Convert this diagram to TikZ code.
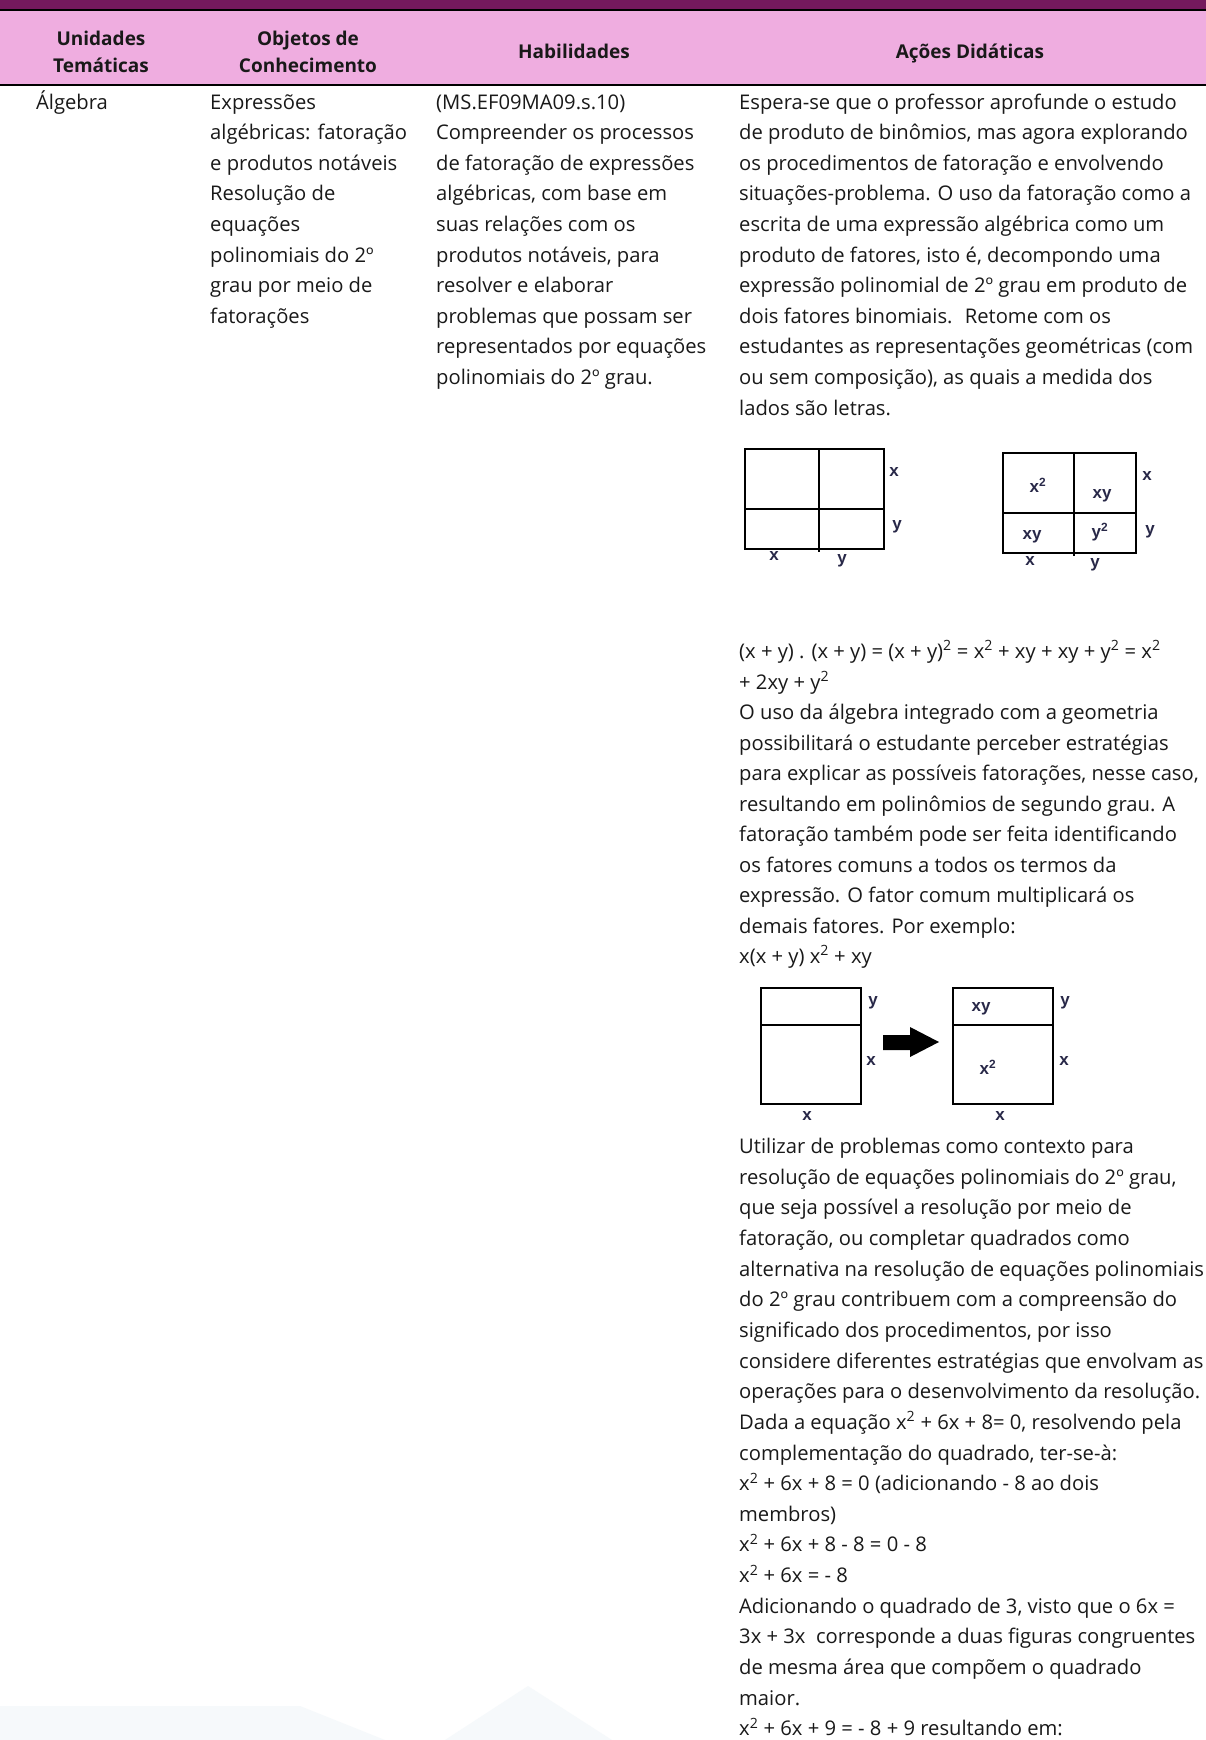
\documentclass[tikz,border=0pt]{standalone}
\usepackage{fontspec}
\setmainfont{Open Sans}
\newfontfamily\lblfont{Liberation Sans}
\definecolor{bandpurple}{RGB}{117,25,93}
\definecolor{headpink}{RGB}{239,173,224}
\definecolor{bodytext}{RGB}{25,25,25}
\definecolor{lblcol}{RGB}{40,40,72}
\definecolor{wmark}{RGB}{246,249,251}
\newcommand\sq{\textsuperscript{2}}
\begin{document}
\begin{tikzpicture}[x=1pt,y=-1pt,
  txt/.style={anchor=base west, inner sep=0pt, font=\fontsize{20.2}{24}\selectfont, text=bodytext},
  hdr/.style={anchor=base, inner sep=0pt, font=\fontsize{19}{23}\selectfont\bfseries, text=bodytext},
  lbl/.style={inner sep=0pt, font=\lblfont\fontsize{17}{19}\selectfont\bfseries, text=lblcol},
  boxline/.style={line width=2.2pt, draw=black},
  innerline/.style={line width=1.7pt, draw=black}]
\useasboundingbox (0,0) rectangle (1206,1740);
\fill[white] (0,0) rectangle (1206,1740);
% faint watermark
\fill[wmark] (0,1706) -- (300,1706) -- (385,1740) -- (0,1740) -- cycle;
\fill[wmark] (445,1740) -- (528,1686) -- (612,1740) -- cycle;
% header band
\fill[bandpurple] (0,0) rectangle (1206,9.5);
\fill[headpink] (0,11) rectangle (1206,84);
\draw[line width=1.8pt] (0,10.3) -- (1206,10.3);
\draw[line width=2.2pt] (0,84.8) -- (1206,84.8);
\node[hdr] (h1a) at (101,45) {Unidades};
\node[hdr] (h1b) at (101,72) {Temáticas};
\node[hdr] (h2a) at (308,45) {Objetos de};
\node[hdr] (h2b) at (308,72) {Conhecimento};
\node[hdr] (h3) at (574,58.5) {Habilidades};
\node[hdr] (h4) at (970,58.5) {Ações Didáticas};
% column 1
\node[txt] (c1) at (36,109) {Álgebra};
% column 2
\node[txt] (c2l0) at (210,{109+30.6*0}) {Expressões};
\node[txt] (c2l1) at (210,{109+30.6*1}) {algébricas: fatoração};
\node[txt] (c2l2) at (210,{109+30.6*2}) {e produtos notáveis};
\node[txt] (c2l3) at (210,{109+30.6*3}) {Resolução de};
\node[txt] (c2l4) at (210,{109+30.6*4}) {equações};
\node[txt] (c2l5) at (210,{109+30.6*5}) {polinomiais do 2º};
\node[txt] (c2l6) at (210,{109+30.6*6}) {grau por meio de};
\node[txt] (c2l7) at (210,{109+30.6*7}) {fatorações};
% column 3
\node[txt] (c3l0) at (436,{109+30.6*0}) {(MS.EF09MA09.s.10)};
\node[txt] (c3l1) at (436,{109+30.6*1}) {Compreender os processos};
\node[txt] (c3l2) at (436,{109+30.6*2}) {de fatoração de expressões};
\node[txt] (c3l3) at (436,{109+30.6*3}) {algébricas, com base em};
\node[txt] (c3l4) at (436,{109+30.6*4}) {suas relações com os};
\node[txt] (c3l5) at (436,{109+30.6*5}) {produtos notáveis, para};
\node[txt] (c3l6) at (436,{109+30.6*6}) {resolver e elaborar};
\node[txt] (c3l7) at (436,{109+30.6*7}) {problemas que possam ser};
\node[txt] (c3l8) at (436,{109+30.6*8}) {representados por equações};
\node[txt] (c3l9) at (436,{109+30.6*9}) {polinomiais do 2º grau.};
% column 4 block A
\node[txt] (a0) at (739,{109+30.6*0}) {Espera-se que o professor aprofunde o estudo};
\node[txt] (a1) at (739,{109+30.6*1}) {de produto de binômios, mas agora explorando};
\node[txt] (a2) at (739,{109+30.6*2}) {os procedimentos de fatoração e envolvendo};
\node[txt] (a3) at (739,{109+30.6*3}) {situações-problema. O uso da fatoração como a};
\node[txt] (a4) at (739,{109+30.6*4}) {escrita de uma expressão algébrica como um};
\node[txt] (a5) at (739,{109+30.6*5}) {produto de fatores, isto é, decompondo uma};
\node[txt] (a6) at (739,{109+30.6*6}) {expressão polinomial de 2º grau em produto de};
\node[txt] (a7) at (739,{109+30.6*7}) {dois fatores binomiais.~ Retome com os};
\node[txt] (a8) at (739,{109+30.6*8}) {estudantes as representações geométricas (com};
\node[txt] (a9) at (739,{109+30.6*9}) {ou sem composição), as quais a medida dos};
\node[txt] (a10) at (739,{109+30.6*10}) {lados são letras.};
% figure 1
\draw[innerline] (745,509) -- (884,509);
\draw[innerline] (819,449) -- (819,552);
\draw[boxline] (745,449) rectangle (884,549);
\node[lbl] (f1rx) at (894,472) {x};
\node[lbl] (f1ry) at (897,527) {y};
\node[lbl] (f1bx) at (774,556) {x};
\node[lbl] (f1by) at (842,561) {y};
% figure 2
\draw[innerline] (1003,513) -- (1136,513);
\draw[innerline] (1074,453) -- (1074,556);
\draw[boxline] (1003,453) rectangle (1136,553);
\node[lbl] (f2a) at (1038,485) {x\sq};
\node[lbl] (f2b) at (1102,496) {xy};
\node[lbl] (f2c) at (1032,537) {xy};
\node[lbl] (f2d) at (1100,532) {y\sq};
\node[lbl] (f2rx) at (1147,476) {x};
\node[lbl] (f2ry) at (1150,532) {y};
\node[lbl] (f2bx) at (1030,561) {x};
\node[lbl] (f2by) at (1095,565) {y};
% column 4 block B
\node[txt] (b0) at (739,{658.5+30.5*0}) {(x + y) . (x + y) = (x + y)\sq{} = x\sq{} + xy + xy + y\sq{} = x\sq};
\node[txt] (b1) at (739,{658.5+30.5*1}) {+ 2xy + y\sq};
\node[txt] (b2) at (739,{658.5+30.5*2}) {O uso da álgebra integrado com a geometria};
\node[txt] (b3) at (739,{658.5+30.5*3}) {possibilitará o estudante perceber estratégias};
\node[txt] (b4) at (739,{658.5+30.5*4}) {para explicar as possíveis fatorações, nesse caso,};
\node[txt] (b5) at (739,{658.5+30.5*5}) {resultando em polinômios de segundo grau. A};
\node[txt] (b6) at (739,{658.5+30.5*6}) {fatoração também pode ser feita identificando};
\node[txt] (b7) at (739,{658.5+30.5*7}) {os fatores comuns a todos os termos da};
\node[txt] (b8) at (739,{658.5+30.5*8}) {expressão. O fator comum multiplicará os};
\node[txt] (b9) at (739,{658.5+30.5*9}) {demais fatores. Por exemplo:};
\node[txt] (b10) at (739,{658.5+30.5*10}) {x(x + y) x\sq{} + xy};
% figure 3
\draw[innerline] (761,1025) -- (861,1025);
\draw[boxline] (761,988) rectangle (861,1104);
\node[lbl] (f3ly) at (873,1003) {y};
\node[lbl] (f3lx) at (871,1061) {x};
\node[lbl] (f3lb) at (807,1116) {x};
\fill[black] (883,1035) -- (910,1035) -- (910,1027) -- (939,1042) -- (910,1057) -- (910,1050) -- (883,1050) -- cycle;
\draw[innerline] (953,1025) -- (1053,1025);
\draw[boxline] (953,988) rectangle (1053,1104);
\node[lbl] (f3xy) at (981,1009) {xy};
\node[lbl] (f3x2) at (988,1067) {x\sq};
\node[lbl] (f3ry) at (1065,1003) {y};
\node[lbl] (f3rx) at (1064,1061) {x};
\node[lbl] (f3rb) at (1000,1116) {x};
% column 4 block C
\node[txt] (k0) at (739,{1153.5+30.65*0}) {Utilizar de problemas como contexto para};
\node[txt] (k1) at (739,{1153.5+30.65*1}) {resolução de equações polinomiais do 2º grau,};
\node[txt] (k2) at (739,{1153.5+30.65*2}) {que seja possível a resolução por meio de};
\node[txt] (k3) at (739,{1153.5+30.65*3}) {fatoração, ou completar quadrados como};
\node[txt] (k4) at (739,{1153.5+30.65*4}) {alternativa na resolução de equações polinomiais};
\node[txt] (k5) at (739,{1153.5+30.65*5}) {do 2º grau contribuem com a compreensão do};
\node[txt] (k6) at (739,{1153.5+30.65*6}) {significado dos procedimentos, por isso};
\node[txt] (k7) at (739,{1153.5+30.65*7}) {considere diferentes estratégias que envolvam as};
\node[txt] (k8) at (739,{1153.5+30.65*8}) {operações para o desenvolvimento da resolução.};
\node[txt] (k9) at (739,{1153.5+30.65*9}) {Dada a equação x\sq{} + 6x + 8= 0, resolvendo pela};
\node[txt] (k10) at (739,{1153.5+30.65*10}) {complementação do quadrado, ter-se-à:};
\node[txt] (k11) at (739,{1153.5+30.65*11}) {x\sq{} + 6x + 8 = 0 (adicionando - 8 ao dois};
\node[txt] (k12) at (739,{1153.5+30.65*12}) {membros)};
\node[txt] (k13) at (739,{1153.5+30.65*13}) {x\sq{} + 6x + 8 - 8 = 0 - 8};
\node[txt] (k14) at (739,{1153.5+30.65*14}) {x\sq{} + 6x = - 8};
\node[txt] (k15) at (739,{1153.5+30.65*15}) {Adicionando o quadrado de 3, visto que o 6x =};
\node[txt] (k16) at (739,{1153.5+30.65*16}) {3x + 3x~ corresponde a duas figuras congruentes};
\node[txt] (k17) at (739,{1153.5+30.65*17}) {de mesma área que compõem o quadrado};
\node[txt] (k18) at (739,{1153.5+30.65*18}) {maior.};
\node[txt] (k19) at (739,{1153.5+30.65*19}) {x\sq{} + 6x + 9 = - 8 + 9 resultando em:};
\end{tikzpicture}
\end{document}
